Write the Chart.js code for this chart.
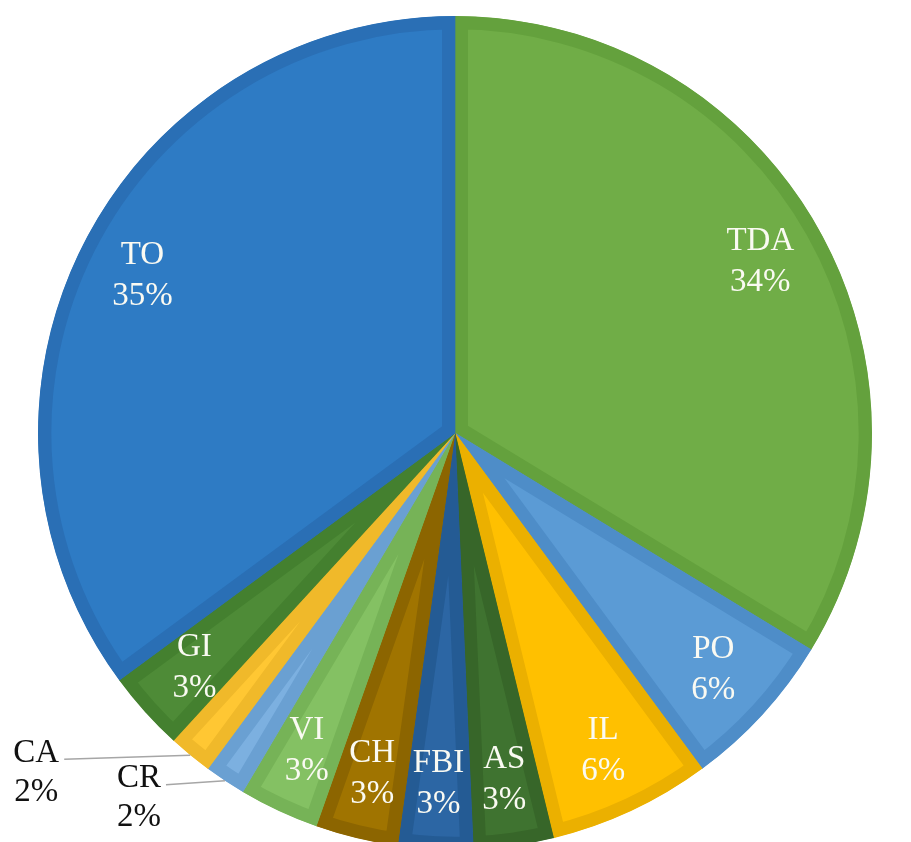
<!DOCTYPE html>
<html>
<head>
<meta charset="utf-8">
<script src="https://cdn.jsdelivr.net/npm/chart.js@4.4.0/dist/chart.umd.min.js"></script>
<style>
  html, body { margin: 0; padding: 0; background: #fff; overflow: hidden; }
  #wrap { position: relative; width: 911px; height: 850px; }
</style>
</head>
<body>
<div id="wrap"><canvas id="pieChart"></canvas></div>
<script>
// Slices, clockwise from 12 o'clock
const labels = ['TDA', 'PO', 'IL', 'AS', 'FBI', 'CH', 'VI', 'CR', 'CA', 'GI', 'TO'];
const shares = [33.7, 6.2, 6.3, 3.1, 2.9, 3.2, 3.1, 1.6, 1.7, 3.1, 35.1];
const fillColors = ['#70AD47', '#5B9BD5', '#FFC000', '#3F7330', '#2C66A4', '#A07400',
                    '#84C163', '#7CB0E0', '#FFC733', '#4E8B37', '#2E7BC4'];
const edgeColors = ['#64A13D', '#4E8DC8', '#EBB000', '#376629', '#245B94', '#8C6500',
                    '#76B357', '#6AA0D2', '#F0B92A', '#44802F', '#2A6FB5'];

// labels drawn inside each slice, small ones outside with a leader line
const sliceLabels = {
  id: 'sliceLabels',
  afterDatasetsDraw(chart, args, opts) {
    const ctx = chart.ctx;
    const meta = chart.getDatasetMeta(0);
    const data = chart.data.datasets[0].data;
    const total = data.reduce((a, b) => a + b, 0);
    ctx.save();
    ctx.font = '33px "Liberation Serif", "Times New Roman", serif';
    ctx.textAlign = 'center';
    ctx.textBaseline = 'middle';
    meta.data.forEach((arc, i) => {
      const p = arc.getProps(['x', 'y', 'startAngle', 'endAngle', 'outerRadius'], true);
      const mid = (p.startAngle + p.endAngle) / 2;
      const name = chart.data.labels[i];
      const pct = Math.round(data[i] / total * 100) + '%';
      const leader = opts.leaders[name];
      if (leader) {
        const px = p.x + Math.cos(mid) * p.outerRadius;
        const py = p.y + Math.sin(mid) * p.outerRadius;
        const ex = px - leader.dx, ey = py + leader.dy;
        ctx.strokeStyle = '#A6A6A6';
        ctx.lineWidth = 1.5;
        ctx.beginPath();
        ctx.moveTo(px, py);
        ctx.lineTo(ex, ey);
        ctx.stroke();
        const w = Math.max(ctx.measureText(name).width, ctx.measureText(pct).width);
        const cx = ex - 5 - w / 2;
        ctx.fillStyle = '#111111';
        ctx.fillText(name, cx, ey - 6);
        ctx.fillText(pct, cx, ey + 33);
      } else {
        const r = p.outerRadius * 0.84;
        const cx = p.x + Math.cos(mid) * r;
        const cy = p.y + Math.sin(mid) * r;
        ctx.fillStyle = '#FAFAF2';
        ctx.fillText(name, cx, cy - 20);
        ctx.fillText(pct, cx, cy + 21);
      }
    });
    ctx.restore();
  }
};

const ctx = document.getElementById('pieChart').getContext('2d');
new Chart(ctx, {
  type: 'pie',
  data: {
    labels: labels,
    datasets: [{
      data: shares,
      backgroundColor: fillColors,
      borderColor: edgeColors,
      borderWidth: 13,
      borderAlign: 'inner',
      borderJoinStyle: 'miter'
    }]
  },
  options: {
    responsive: true,
    maintainAspectRatio: false,
    animation: false,
    layout: { padding: { top: 16, left: 38, right: 39, bottom: 0 } },
    plugins: {
      legend: { display: false },
      tooltip: { enabled: false },
      sliceLabels: {
        leaders: {
          CA: { dx: 126, dy: 4 },
          CR: { dx: 59, dy: 4 }
        }
      }
    }
  },
  plugins: [sliceLabels]
});
</script>
</body>
</html>
